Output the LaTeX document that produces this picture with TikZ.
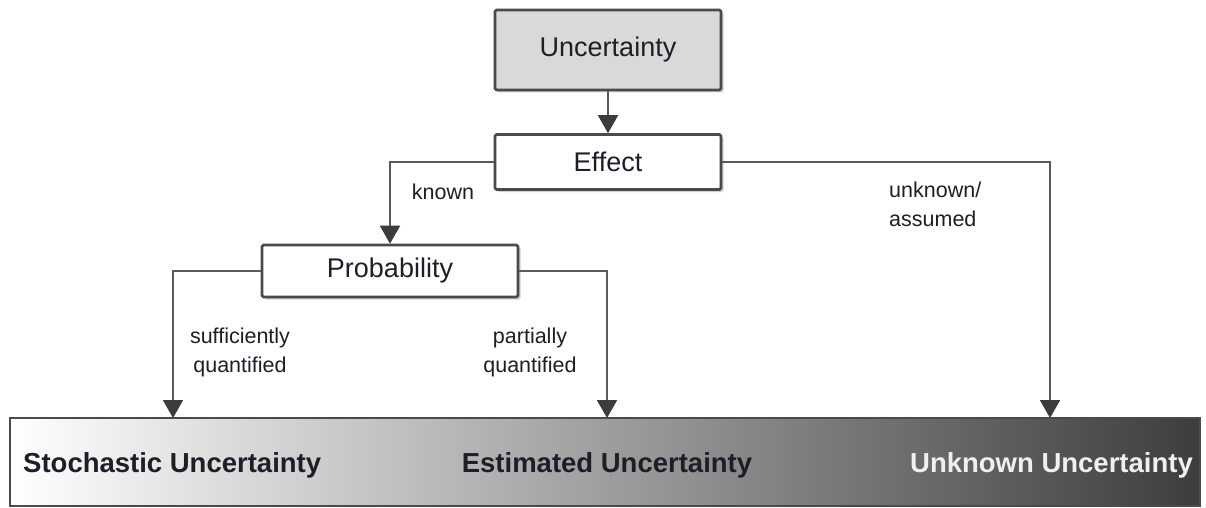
\documentclass[tikz,border=0pt]{standalone}
\usepackage{fontspec}
\setmainfont{Liberation Sans}
\usetikzlibrary{arrows.meta,shadows}
\definecolor{boxline}{HTML}{4A4A4A}
\definecolor{wireline}{HTML}{5A5A5A}
\definecolor{tipcol}{HTML}{3C3C3C}
\definecolor{txt}{HTML}{1E1E28}
\definecolor{topfill}{HTML}{D9D9D9}
\begin{document}
\begin{tikzpicture}[x=1pt,y=-1pt,
  box/.style={draw=boxline,line width=2.6pt,rounded corners=1.5pt,fill=white,
    minimum width=226pt,minimum height=55pt,inner sep=0pt,text=txt,
    font=\fontsize{27}{32}\selectfont,
    drop shadow={shadow xshift=2.5pt,shadow yshift=-2.5pt,opacity=0.18,fill=black}},
  wire/.style={draw=wireline,line width=1.8pt,
    -{Triangle[width=20pt,length=18pt,fill=tipcol,color=tipcol]}},
  lbl/.style={text=txt,font=\fontsize{21.5}{29}\selectfont,inner sep=0pt},
  bartext/.style={font=\bfseries\fontsize{27.5}{32}\selectfont,inner sep=0pt}]
\useasboundingbox (0,0) rectangle (1206,508);

% gradient bar at the bottom
\shade[left color=white,middle color=black!23,right color=black!76]
  (10,418) rectangle (1200,506);
\draw[boxline,line width=2.6pt] (10,418) rectangle (1200,506);
\node[minimum width=1190pt,minimum height=88pt,inner sep=0pt] (bar) at (605,462) {};

% boxes
\node[box,fill=topfill,minimum height=80pt] (unc) at (608,50) {Uncertainty};
\node[box] (eff) at (608,162) {Effect};
\node[box,minimum width=256pt,minimum height=52pt] (prob) at (390,271) {Probability};

% arrow end points on the bar
\coordinate (tsto) at (173,418);
\coordinate (test) at (607,418);
\coordinate (tunk) at (1050,418);

% connectors
\draw[wire] (unc.south) -- (eff.north);
\draw[wire] (eff.west) -| (prob.north);
\draw[wire] (eff.east) -| (tunk);
\draw[wire] (prob.west) -| (tsto);
\draw[wire] (prob.east) -| (test);

% connector labels
\node[lbl] (lknown) at (443,192) {known};
\node[lbl,align=left,anchor=west] (lunk) at (889,204) {unknown/\\assumed};
\node[lbl,align=center] (lsuff) at (240,352) {sufficiently\\quantified};
\node[lbl,align=center] (lpart) at (530,352) {partially\\quantified};

% bar texts
\node[bartext,text=txt,anchor=west] (sto) at (23,465) {Stochastic Uncertainty};
\node[bartext,text=txt] (est) at (607,465) {Estimated Uncertainty};
\node[bartext,text=black!6,anchor=east] (unk) at (1193,465) {Unknown Uncertainty};
\end{tikzpicture}
\end{document}
